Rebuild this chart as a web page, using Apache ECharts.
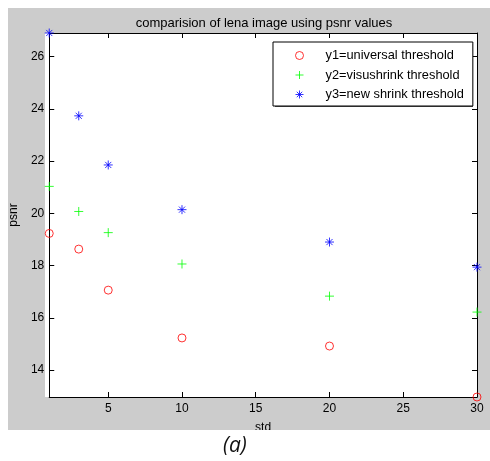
<!DOCTYPE html>
<html><head><meta charset="utf-8">
<script src="https://cdn.jsdelivr.net/npm/echarts@6/dist/echarts.min.js"></script>
<style>html,body{margin:0;padding:0;background:#fff}#c{width:490px;height:461px}</style>
</head><body><div id="c"></div>
<script>
const stdValues = [1, 3, 5, 10, 20, 30];
const y1Universal = [19.23, 18.63, 17.06, 15.23, 14.92, 12.97];
const y2Visushrink = [21.03, 20.07, 19.26, 18.06, 16.83, 16.22];
const y3NewShrink = [26.9, 23.73, 21.85, 20.14, 18.9, 17.94];
const xTicks = [5, 10, 15, 20, 25, 30];
const yTicks = [14, 16, 18, 20, 22, 24, 26];
const seriesNames = ['y1=universal threshold', 'y2=visushrink threshold', 'y3=new shrink threshold'];

const font = '"Liberation Sans", Arial, sans-serif';
const zip = ys => stdValues.map((x, i) => [x, ys[i]]);
const plusPath = 'path://M5 0L5 10M0 5L10 5';
const starPath = 'path://M5 0L5 10M0 5L10 5M1.6 1.6L8.4 8.4M8.4 1.6L1.6 8.4';
const colors = ['#ff0000', '#00ff00', '#0000ff'];
const symbols = ['circle', plusPath, starPath];

const chart = echarts.init(document.getElementById('c'), null, {renderer: 'canvas'});
const xBase = {type: 'value', min: 1, max: 30,
  axisLine: {show: true, onZero: false, lineStyle: {color: '#000', width: 1}},
  splitLine: {show: false}};
const yBase = {type: 'value', min: 12.97, max: 26.9,
  axisLine: {show: true, onZero: false, lineStyle: {color: '#000', width: 1}},
  splitLine: {show: false}};
chart.setOption({
  animation: false,
  backgroundColor: '#fff',
  graphic: [
    {type: 'rect', z: -10, silent: true, shape: {x: 8, y: 8, width: 482, height: 422}, style: {fill: '#cccccc'}},
    {type: 'rect', z: -9, silent: true, shape: {x: 45, y: 33, width: 432, height: 364}, style: {fill: '#fff'}},
    {type: 'rect', z: -1, silent: true, shape: {x: 275, y: 44, width: 198, height: 63}, style: {fill: '#555'}},
    {type: 'rect', z: 100, silent: true, shape: {x: 0, y: 430, width: 490, height: 31}, style: {fill: '#fff'}},
    {type: 'text', z: 101, left: 223, top: 436, style: {text: '(a)', fill: '#111', font: 'italic 21px "Open Sans", "DejaVu Sans", sans-serif'}}
  ],
  title: {text: 'comparision of lena image using psnr values', left: 259, top: 12, textAlign: 'center',
    textStyle: {fontFamily: font, fontSize: 13, fontWeight: 'normal', color: '#000'}},
  grid: {left: 45, top: 33, right: 13, bottom: 64, containLabel: false},
  legend: {
    orient: 'vertical', left: 273, top: 42,
    backgroundColor: '#fff', borderColor: '#000', borderWidth: 1,
    padding: [7, 9, 5, 22], itemWidth: 8, itemHeight: 8, itemGap: 6.5,
    itemStyle: {borderWidth: 1},
    textStyle: {fontFamily: font, fontSize: 12.8, color: '#000', padding: [0, 0, 0, 17]},
    data: seriesNames.map((n, i) => ({name: n, icon: symbols[i],
      itemStyle: {color: 'transparent', borderColor: colors[i], borderWidth: 1}}))
  },
  xAxis: [
    Object.assign({}, xBase, {position: 'bottom', name: 'std', nameLocation: 'middle', nameGap: 25,
      nameTextStyle: {fontFamily: font, fontSize: 12, color: '#000'},
      axisTick: {show: true, inside: true, length: 5, customValues: xTicks, lineStyle: {color: '#000'}},
      axisLabel: {show: true, margin: 6, customValues: xTicks, fontFamily: font, fontSize: 12, color: '#000'}}),
    Object.assign({}, xBase, {position: 'top',
      axisTick: {show: true, inside: true, length: 5, customValues: xTicks, lineStyle: {color: '#000'}},
      axisLabel: {show: false}})
  ],
  yAxis: [
    Object.assign({}, yBase, {position: 'left', name: 'psnr', nameLocation: 'middle', nameGap: 27, nameRotate: 90,
      nameTextStyle: {fontFamily: font, fontSize: 12, color: '#000'},
      axisTick: {show: true, inside: true, length: 5, customValues: yTicks, lineStyle: {color: '#000'}},
      axisLabel: {show: true, margin: 5, customValues: yTicks, fontFamily: font, fontSize: 12, color: '#000'}}),
    Object.assign({}, yBase, {position: 'right',
      axisTick: {show: true, inside: true, length: 5, customValues: yTicks, lineStyle: {color: '#000'}},
      axisLabel: {show: false}})
  ],
  series: [
    {name: seriesNames[0], type: 'scatter', clip: false, symbol: symbols[0], symbolSize: 8, z: 5,
      itemStyle: {color: 'transparent', borderColor: colors[0], borderWidth: 1}, data: zip(y1Universal)},
    {name: seriesNames[1], type: 'scatter', clip: false, symbol: symbols[1], symbolSize: 9, z: 5,
      itemStyle: {color: 'none', borderColor: colors[1], borderWidth: 1}, data: zip(y2Visushrink)},
    {name: seriesNames[2], type: 'scatter', clip: false, symbol: symbols[2], symbolSize: 9, z: 5,
      itemStyle: {color: 'none', borderColor: colors[2], borderWidth: 1}, data: zip(y3NewShrink)}
  ]
});
</script></body></html>
